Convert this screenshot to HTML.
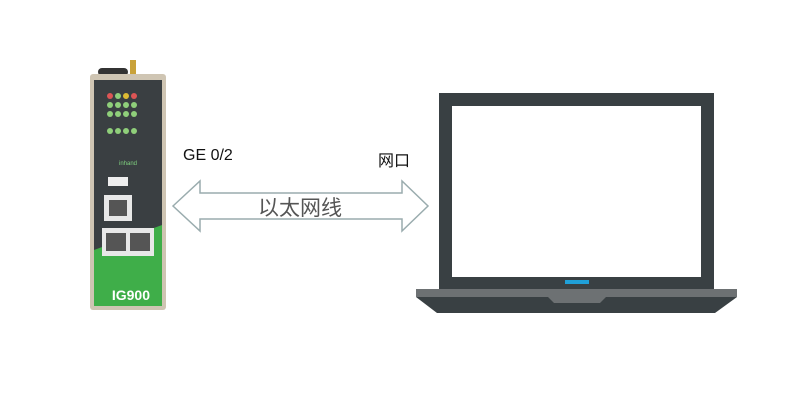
<!DOCTYPE html>
<html><head><meta charset="utf-8"><style>
body{margin:0;width:800px;height:412px;background:#fff;overflow:hidden;position:relative;font-family:"Liberation Sans","Noto Sans CJK SC",sans-serif}
.t{position:absolute;white-space:nowrap}
</style></head><body>
<svg width="800" height="412" style="position:absolute;left:0;top:0">
<!-- device -->
<rect x="98" y="68" width="30" height="8" rx="4" fill="#333"/>
<rect x="130" y="60" width="6" height="16" fill="#c9a23a"/>
<rect x="90" y="74" width="76" height="236" rx="3" fill="#cfc5b3"/>
<rect x="94" y="80" width="68" height="226" fill="#3a3f42"/>
<polygon points="94,250 162,225 162,306 94,306" fill="#3fae49"/>
<text x="150" y="300" font-family="Liberation Sans" font-size="14" font-weight="bold" fill="#fff" text-anchor="end">IG900</text>
<g fill="#8fcf7a">
<circle cx="110" cy="96" r="3" fill="#d55"/><circle cx="118" cy="96" r="3"/><circle cx="126" cy="96" r="3" fill="#db3"/><circle cx="134" cy="96" r="3" fill="#d55"/>
<circle cx="110" cy="105" r="3"/><circle cx="118" cy="105" r="3"/><circle cx="126" cy="105" r="3"/><circle cx="134" cy="105" r="3"/>
<circle cx="110" cy="114" r="3"/><circle cx="118" cy="114" r="3"/><circle cx="126" cy="114" r="3"/><circle cx="134" cy="114" r="3"/>
<circle cx="110" cy="131" r="3"/><circle cx="118" cy="131" r="3"/><circle cx="126" cy="131" r="3"/><circle cx="134" cy="131" r="3"/>
</g>
<text x="128" y="165" font-size="6" fill="#7fd07f" text-anchor="middle">inhand</text>
<rect x="108" y="177" width="20" height="9" fill="#eee"/>
<rect x="104" y="195" width="28" height="26" fill="#e8e8e8"/><rect x="109" y="200" width="18" height="16" fill="#555"/>
<rect x="102" y="228" width="52" height="28" fill="#e8e8e8"/><rect x="106" y="233" width="20" height="18" fill="#555"/><rect x="130" y="233" width="20" height="18" fill="#555"/>
<!-- arrow -->
<polygon points="173,206 200,181 200,193 402,193 402,181 428,206 402,231 402,219 200,219 200,231" fill="#fff" stroke="#9aacae" stroke-width="1.5"/>
<!-- laptop -->
<rect x="439" y="93" width="275" height="196" fill="#394043"/>
<rect x="452" y="106" width="249" height="171" fill="#fff"/>
<rect x="565" y="280" width="24" height="4" fill="#1fa0d8"/>
<rect x="416" y="289" width="321" height="8" fill="#6d7173"/>
<polygon points="416,297 737,297 715,313 437,313" fill="#394043"/>
<polygon points="548,297 606,297 600,303 554,303" fill="#6d7173"/>
</svg>
<div class="t" style="left:183px;top:147px;font-size:16px;color:#111">GE 0/2</div>
<div class="t" style="left:378px;top:147px;font-size:16px;color:#111">网口</div>
<div class="t" style="left:258px;top:192px;font-size:21px;color:#555">以太网线</div>
</body></html>
